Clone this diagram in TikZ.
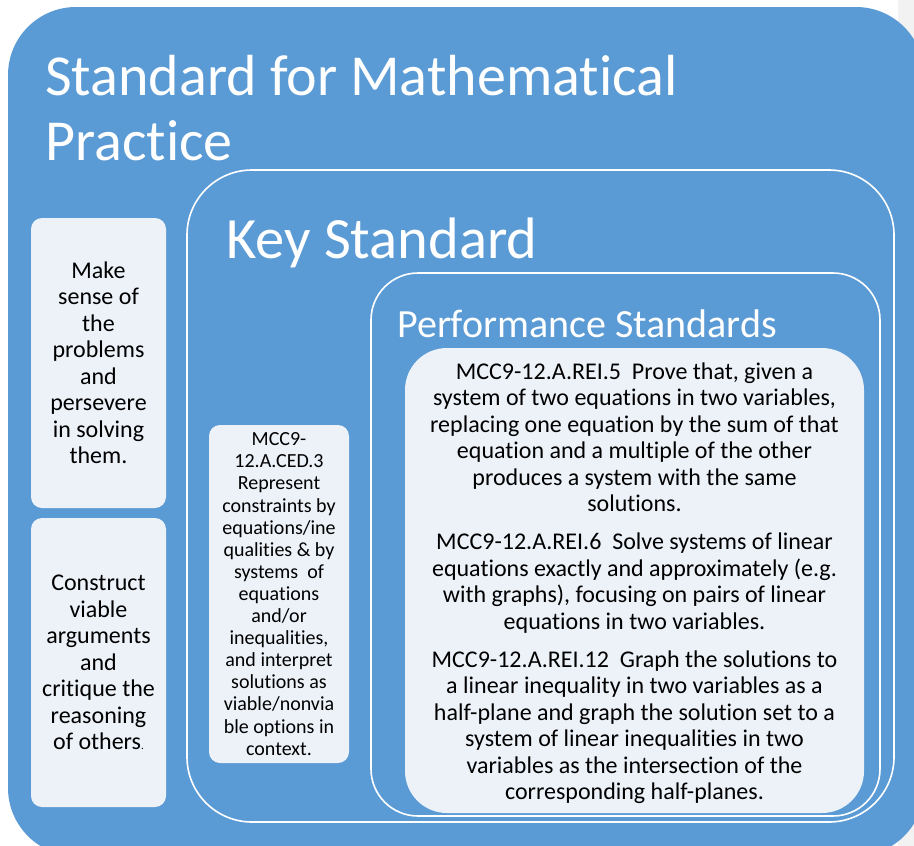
\documentclass[tikz,border=0pt]{standalone}
\usepackage{fontspec}
\setmainfont{Carlito}[Ligatures={NoCommon}]
\definecolor{smpblue}{HTML}{5B9BD5}
\definecolor{tilefill}{HTML}{EDF2F9}
\definecolor{pageedge}{HTML}{F2F2F2}

\begin{document}
\begin{tikzpicture}[x=1pt,y=-1pt,
  tile/.style={fill=tilefill, draw=none, rounded corners=11pt, align=center,
    inner sep=0pt, outer sep=0pt, text=black},
  frame/.style={draw=white, line width=1.6pt, rounded corners=#1, inner sep=0pt,
    outer sep=0pt, anchor=north west},
  heading/.style={text=white, anchor=base west, inner sep=0pt, align=left},
  bodytext/.style={font=\fontsize{24}{26.5}\selectfont},
  smalltext/.style={font=\fontsize{20}{22.1}\selectfont}
]
\useasboundingbox (0,0) rectangle (914,846);

% page edge and the outer practice panel
\fill[pageedge] (898,0) rectangle (914,846);
\fill[smpblue, rounded corners=68pt] (8,7) rectangle (924,856);

\node[heading, font=\fontsize{58}{65}\selectfont] (practice) at (45,160)
  {Standard for Mathematical\\Practice};

% practice tiles on the left
\node[tile, bodytext, minimum width=135pt, minimum height=290pt] (sense) at (98.5,363)
  {Make\\sense of\\the\\problems\\and\\persevere\\in solving\\them.};
\node[tile, bodytext, minimum width=135pt, minimum height=289pt] (argue) at (98.5,662.5)
  {Construct\\viable\\arguments\\and\\critique the\\reasoning\\of others{\fontsize{11}{11}\selectfont.}};

% key standard frame
\node[frame=65pt, minimum width=707pt, minimum height=652pt] (key) at (187,170) {};
\node[heading, font=\fontsize{58.5}{65}\selectfont] (keytitle) at (226,258) {Key Standard};

\node[tile, smalltext, minimum width=140pt, minimum height=338pt] (ced) at (279,594)
  {MCC9-\\12.A.CED.3\\Represent\\constraints by\\equations/ine\\qualities \& by\\systems~ of\\equations\\and/or\\inequalities,\\and interpret\\solutions as\\viable/nonvia\\ble options in\\context.};

% performance standards frame
\node[frame=47pt, minimum width=509pt, minimum height=543pt] (perf) at (371,273) {};
\node[heading, font=\fontsize{40}{48}\selectfont] (perftitle) at (397,337) {Performance Standards};

\node[tile, rounded corners=42pt, minimum width=459pt, minimum height=465pt] (rei) at (634.5,580.5) {};
\node[bodytext, align=center, inner sep=0pt] (reitext) at (634.5,583)
  {MCC9-12.A.REI.5~ Prove that, given a\\
   system of two equations in two variables,\\
   replacing one equation by the sum of that\\
   equation and a multiple of the other\\
   produces a system with the same\\
   solutions.\\[11.5pt]
   MCC9-12.A.REI.6~ Solve systems of linear\\
   equations exactly and approximately (e.g.\\
   with graphs), focusing on pairs of linear\\
   equations in two variables.\\[11.5pt]
   MCC9-12.A.REI.12~ Graph the solutions to\\
   a linear inequality in two variables as a\\
   half-plane and graph the solution set to a\\
   system of linear inequalities in two\\
   variables as the intersection of the\\
   corresponding half-planes.};
\end{tikzpicture}
\end{document}
